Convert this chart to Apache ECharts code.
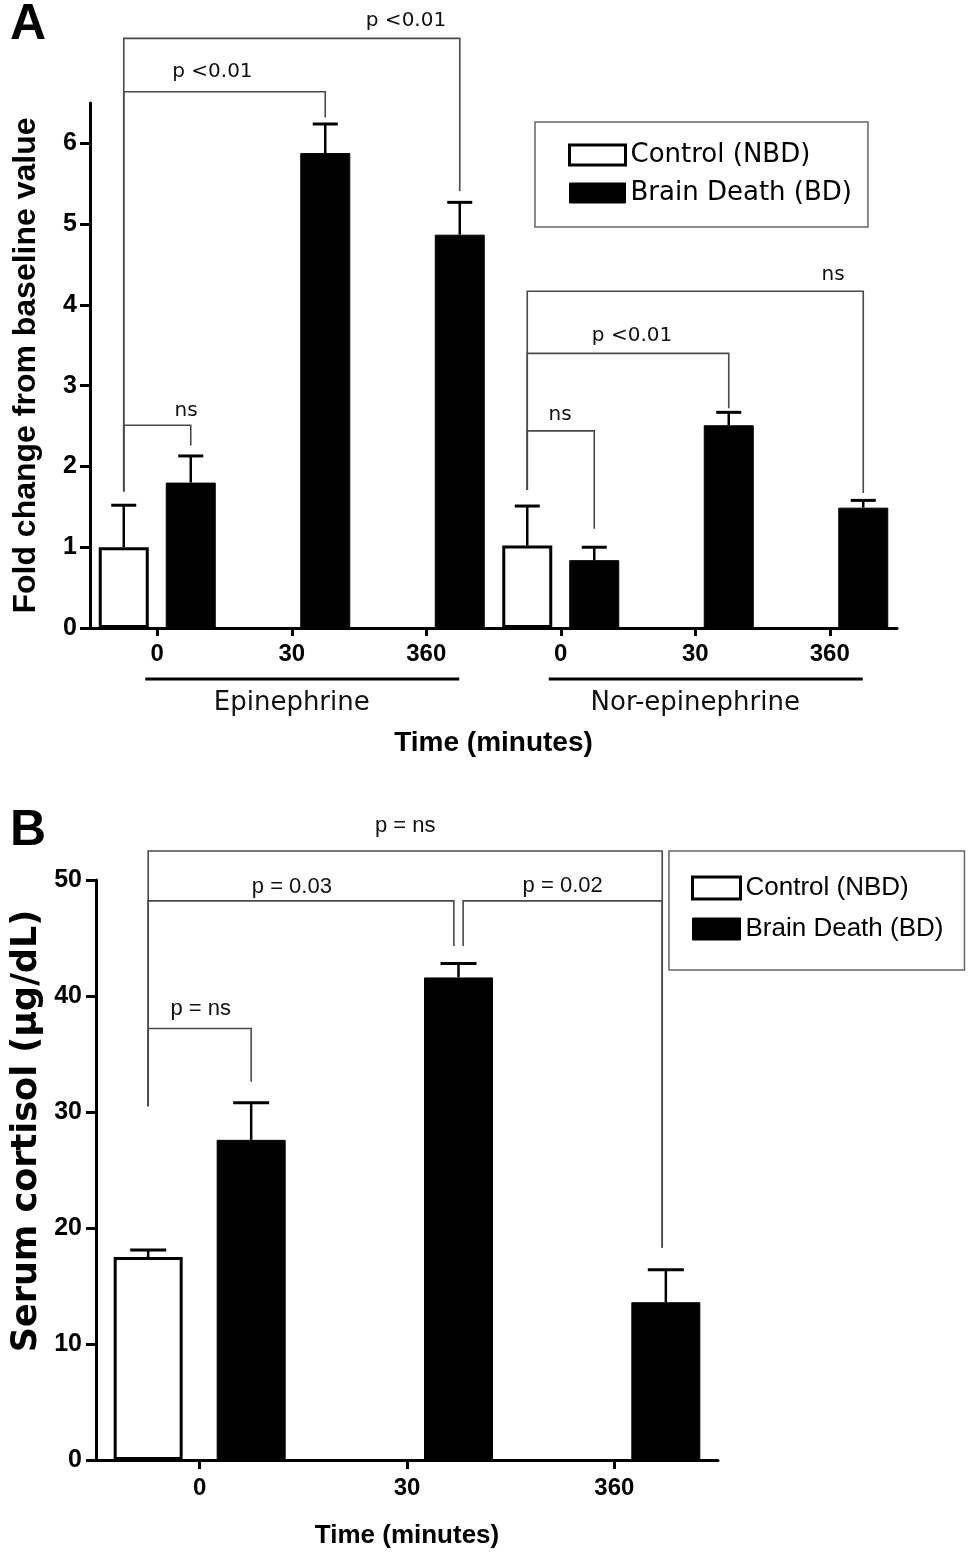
<!DOCTYPE html>
<html><head><meta charset="utf-8">
<script src="https://cdn.jsdelivr.net/npm/echarts@6/dist/echarts.min.js"></script>
<style>html,body{margin:0;padding:0;background:#fff}#c{width:971px;height:1563px}</style>
</head><body><div id="c"></div>
<script>
// ---------- Panel A data ----------
const categoriesA = ['0', '30', '360', '0', '30', '360'];
const controlA = [1.00, null, null, 1.02, null, null];
const controlErrA = [1.52, null, null, 1.51, null, null];
const brainDeathA = [1.80, 5.88, 4.87, 0.84, 2.51, 1.49];
const brainDeathErrA = [2.13, 6.24, 5.27, 1.00, 2.67, 1.58];
const yTicksA = [0, 1, 2, 3, 4, 5, 6];
const groupsA = [['Epinephrine', 0, 2], ['Nor-epinephrine', 3, 5]];
// [fromCategory, fromSide, toCategory, toSide, level, fromDrop, toDrop]
const bracketsA = [
  [0, -1, 2, 1, 7.30, 1.69, 5.41],
  [0, -1, 1, 1, 6.64, 1.69, 6.32],
  [0, -1, 0, 1, 2.51, 1.69, 2.26],
  [3, -1, 5, 1, 4.17, 1.71, 1.67],
  [3, -1, 4, 1, 3.40, 1.71, 2.72],
  [3, -1, 3, 1, 2.44, 1.71, 1.23]
];
const bracketLabelsA = ['p <0.01', 'p <0.01', 'ns', 'ns', 'p <0.01', 'ns'];
const bracketLabelPosA = [0.84, 0.44, 0.93, 0.91, 0.52, 0.49];
const bracketLabelGapA = [8, 10, 4, 6, 8, 6];

// ---------- Panel B data ----------
const categoriesB = ['0', '30', '360'];
const controlB = [17.5, null, null];
const controlErrB = [18.1, null, null];
const brainDeathB = [27.6, 41.6, 13.6];
const brainDeathErrB = [30.8, 42.8, 16.4];
const yTicksB = [0, 10, 20, 30, 40, 50];
const bracketsB = [
  [0, -1, 2, 0.93, 52.5, 30.5, 18.3],
  [0, -1, 1, 0.91, 48.2, 30.5, 44.3],
  [1, 1.09, 2, 0.93, 48.2, 44.3, 18.3],
  [0, -1, 0, 1, 37.2, 30.5, 32.6]
];
const bracketLabelsB = ['p = ns', 'p = 0.03', 'p = 0.02', 'p = ns'];
const bracketLabelPosB = [0.5, 0.47, 0.5, 0.51];
const bracketLabelGapB = [14, 3, 4, 9];

const seriesNames = ['Control (NBD)', 'Brain Death (BD)'];

// ---------- styles ----------
const LIB = '"Liberation Sans", Arial, Helvetica, sans-serif';
const DJV = '"DejaVu Sans", Verdana, sans-serif';
const BAR_W_A = 50, GAP_A = 17, BAR_W_B = 69, GAP_B = 34;
const OFF_A = (BAR_W_A + GAP_A) / 2, OFF_B = (BAR_W_B + GAP_B) / 2;

function errorSeries(values, errs, side, off, capW, xi) {
  const data = [];
  values.forEach((v, i) => { if (v != null) data.push([i, v, errs[i]]); });
  return {
    type: 'custom', xAxisIndex: xi, yAxisIndex: xi, z: 6, silent: true, clip: false,
    data: data,
    renderItem: function (params, api) {
      const i = api.value(0), m = api.value(1), h = api.value(2);
      const b = api.coord([i, m]), t = api.coord([i, h]);
      const x = b[0] + side * off;
      return { type: 'group', children: [
        { type: 'line', shape: { x1: x, y1: b[1], x2: x, y2: t[1] }, style: { stroke: '#000', lineWidth: 2.5 } },
        { type: 'line', shape: { x1: x - capW / 2, y1: t[1], x2: x + capW / 2, y2: t[1] }, style: { stroke: '#000', lineWidth: 3 } }
      ]};
    }
  };
}

function bracketSeries(brackets, labels, pos, gaps, off, xi, font) {
  return {
    type: 'custom', xAxisIndex: xi, yAxisIndex: xi, z: 7, silent: true, clip: false,
    data: brackets.map(b => b.slice()),
    renderItem: function (params, api) {
      const k = params.dataIndex;
      const b = brackets[k];
      const p1 = api.coord([b[0], b[4]]), p2 = api.coord([b[2], b[4]]);
      const x1 = p1[0] + b[1] * off, x2 = p2[0] + b[3] * off, y = p1[1];
      const yd1 = api.coord([b[0], b[5]])[1], yd2 = api.coord([b[2], b[6]])[1];
      const lx = x1 + (x2 - x1) * pos[k];
      const ls = { stroke: '#4a4a4a', lineWidth: 1.6 };
      return { type: 'group', children: [
        { type: 'polyline', shape: { points: [[x1, yd1], [x1, y], [x2, y], [x2, yd2]] }, style: Object.assign({ fill: null }, ls) },
        { type: 'text', x: lx, y: y - gaps[k], style: { text: labels[k], font: font, fill: '#111',
          align: 'center', verticalAlign: 'bottom', textAlign: 'center', textVerticalAlign: 'bottom' } }
      ]};
    }
  };
}

const groupSeries = {
  type: 'custom', xAxisIndex: 0, yAxisIndex: 0, z: 7, silent: true, clip: false,
  data: groupsA.map(g => [g[1], g[2]]),
  renderItem: function (params, api) {
    const g = groupsA[params.dataIndex];
    const p1 = api.coord([g[1], 0]), p2 = api.coord([g[2], 0]);
    const base = p1[1];
    return { type: 'group', children: [
      { type: 'line', shape: { x1: p1[0] - 12, y1: base + 51, x2: p2[0] + 33, y2: base + 51 }, style: { stroke: '#000', lineWidth: 3 } },
      { type: 'text', x: (p1[0] + p2[0]) / 2, y: base + 75, style: { text: g[0], font: '26px ' + DJV, fill: '#111',
        align: 'center', verticalAlign: 'middle', textAlign: 'center', textVerticalAlign: 'middle' } }
    ]};
  }
};

function axisLineStyle() { return { show: true, lineStyle: { color: '#000', width: 3 } }; }

const option = {
  animation: false,
  backgroundColor: '#fff',
  grid: [
    { left: 90, top: 103, width: 807, height: 525, containLabel: false, outerBoundsMode: 'none' },
    { left: 96, top: 880, width: 622, height: 580, containLabel: false, outerBoundsMode: 'none' }
  ],
  xAxis: [
    { gridIndex: 0, type: 'category', data: categoriesA,
      axisLine: axisLineStyle(),
      axisTick: { show: true, alignWithLabel: true, length: 8, lineStyle: { color: '#000', width: 3 } },
      axisLabel: { interval: 0, margin: 14, color: '#000', fontFamily: LIB, fontWeight: 'bold', fontSize: 24 },
      name: 'Time (minutes)', nameLocation: 'middle', nameGap: 101,
      nameTextStyle: { color: '#000', fontFamily: LIB, fontWeight: 'bold', fontSize: 28 } },
    { gridIndex: 1, type: 'category', data: categoriesB,
      axisLine: axisLineStyle(),
      axisTick: { show: true, alignWithLabel: true, length: 9, lineStyle: { color: '#000', width: 3 } },
      axisLabel: { interval: 0, margin: 16, color: '#000', fontFamily: LIB, fontWeight: 'bold', fontSize: 24 },
      name: 'Time (minutes)', nameLocation: 'middle', nameGap: 63,
      nameTextStyle: { color: '#000', fontFamily: LIB, fontWeight: 'bold', fontSize: 26 } }
  ],
  yAxis: [
    { gridIndex: 0, type: 'value', min: 0, max: 6.5, interval: 1,
      splitLine: { show: false },
      axisLine: axisLineStyle(),
      axisTick: { show: true, length: 10, lineStyle: { color: '#000', width: 3 }, customValues: yTicksA },
      axisLabel: { customValues: yTicksA, margin: 13, color: '#000', fontFamily: LIB, fontWeight: 'bold', fontSize: 25 },
      name: 'Fold change from baseline value', nameLocation: 'middle', nameGap: 48, nameRotate: 90,
      nameTextStyle: { color: '#000', fontFamily: LIB, fontWeight: 'bold', fontSize: 32 } },
    { gridIndex: 1, type: 'value', min: 0, max: 50, interval: 10,
      splitLine: { show: false },
      axisLine: axisLineStyle(),
      axisTick: { show: true, length: 10, lineStyle: { color: '#000', width: 3 }, customValues: yTicksB },
      axisLabel: { customValues: yTicksB, margin: 14, color: '#000', fontFamily: LIB, fontWeight: 'bold', fontSize: 25 } }
  ],
  legend: [
    { left: 535, top: 122, orient: 'vertical', padding: [19, 16, 20, 33], borderColor: '#666', borderWidth: 1.5,
      itemWidth: 56, itemHeight: 20, itemGap: 10, icon: 'rect', selectedMode: false,
      textStyle: { fontFamily: DJV, fontSize: 26, lineHeight: 28, color: '#000' },
      data: [
        { name: seriesNames[0], itemStyle: { color: '#fff', borderColor: '#000', borderWidth: 3 } },
        { name: seriesNames[1], itemStyle: { color: '#000', borderColor: '#000', borderWidth: 1 } }
      ] },
    { left: 669, top: 851, orient: 'vertical', padding: [23, 21, 27, 22], borderColor: '#666', borderWidth: 1.5,
      itemWidth: 48, itemHeight: 22, itemGap: 13, icon: 'rect', selectedMode: false,
      textStyle: { fontFamily: LIB, fontSize: 26, lineHeight: 28, color: '#000' },
      data: [
        { name: seriesNames[0], itemStyle: { color: '#fff', borderColor: '#000', borderWidth: 3 } },
        { name: seriesNames[1], itemStyle: { color: '#000', borderColor: '#000', borderWidth: 1 } }
      ] }
  ],
  graphic: [
    { type: 'text', left: 10, top: 0, style: { text: 'A', font: 'bold 50px ' + LIB, fill: '#000' } },
    { type: 'text', left: 10, top: 806, style: { text: 'B', font: 'bold 50px ' + LIB, fill: '#000' } },
    { type: 'text', x: 27, y: 1131, rotation: Math.PI / 2,
      style: { text: 'Serum cortisol (\u03bcg/dL)', font: 'bold 35px ' + DJV, fill: '#000',
        align: 'center', verticalAlign: 'middle', textAlign: 'center', textVerticalAlign: 'middle' } }
  ],
  series: [
    { name: seriesNames[0], type: 'bar', xAxisIndex: 0, yAxisIndex: 0, data: controlA,
      barWidth: BAR_W_A, barGap: (GAP_A / BAR_W_A * 100) + '%',
      itemStyle: { color: '#fff', borderColor: '#000', borderWidth: 3 } },
    { name: seriesNames[1], type: 'bar', xAxisIndex: 0, yAxisIndex: 0, data: brainDeathA,
      barWidth: BAR_W_A, barGap: (GAP_A / BAR_W_A * 100) + '%',
      itemStyle: { color: '#000', borderColor: '#000', borderWidth: 1 } },
    { name: seriesNames[0], type: 'bar', xAxisIndex: 1, yAxisIndex: 1, data: controlB,
      barWidth: BAR_W_B, barGap: (GAP_B / BAR_W_B * 100) + '%',
      itemStyle: { color: '#fff', borderColor: '#000', borderWidth: 3 } },
    { name: seriesNames[1], type: 'bar', xAxisIndex: 1, yAxisIndex: 1, data: brainDeathB,
      barWidth: BAR_W_B, barGap: (GAP_B / BAR_W_B * 100) + '%',
      itemStyle: { color: '#000', borderColor: '#000', borderWidth: 1 } },
    errorSeries(controlA, controlErrA, -1, OFF_A, 25, 0),
    errorSeries(brainDeathA, brainDeathErrA, 1, OFF_A, 25, 0),
    errorSeries(controlB, controlErrB, -1, OFF_B, 36, 1),
    errorSeries(brainDeathB, brainDeathErrB, 1, OFF_B, 36, 1),
    bracketSeries(bracketsA, bracketLabelsA, bracketLabelPosA, bracketLabelGapA, OFF_A, 0, '20px ' + DJV),
    bracketSeries(bracketsB, bracketLabelsB, bracketLabelPosB, bracketLabelGapB, OFF_B, 1, '22px ' + LIB),
    groupSeries
  ]
};

const chart = echarts.init(document.getElementById('c'), null, { renderer: 'canvas' });
chart.setOption(option);
</script>
</body></html>
